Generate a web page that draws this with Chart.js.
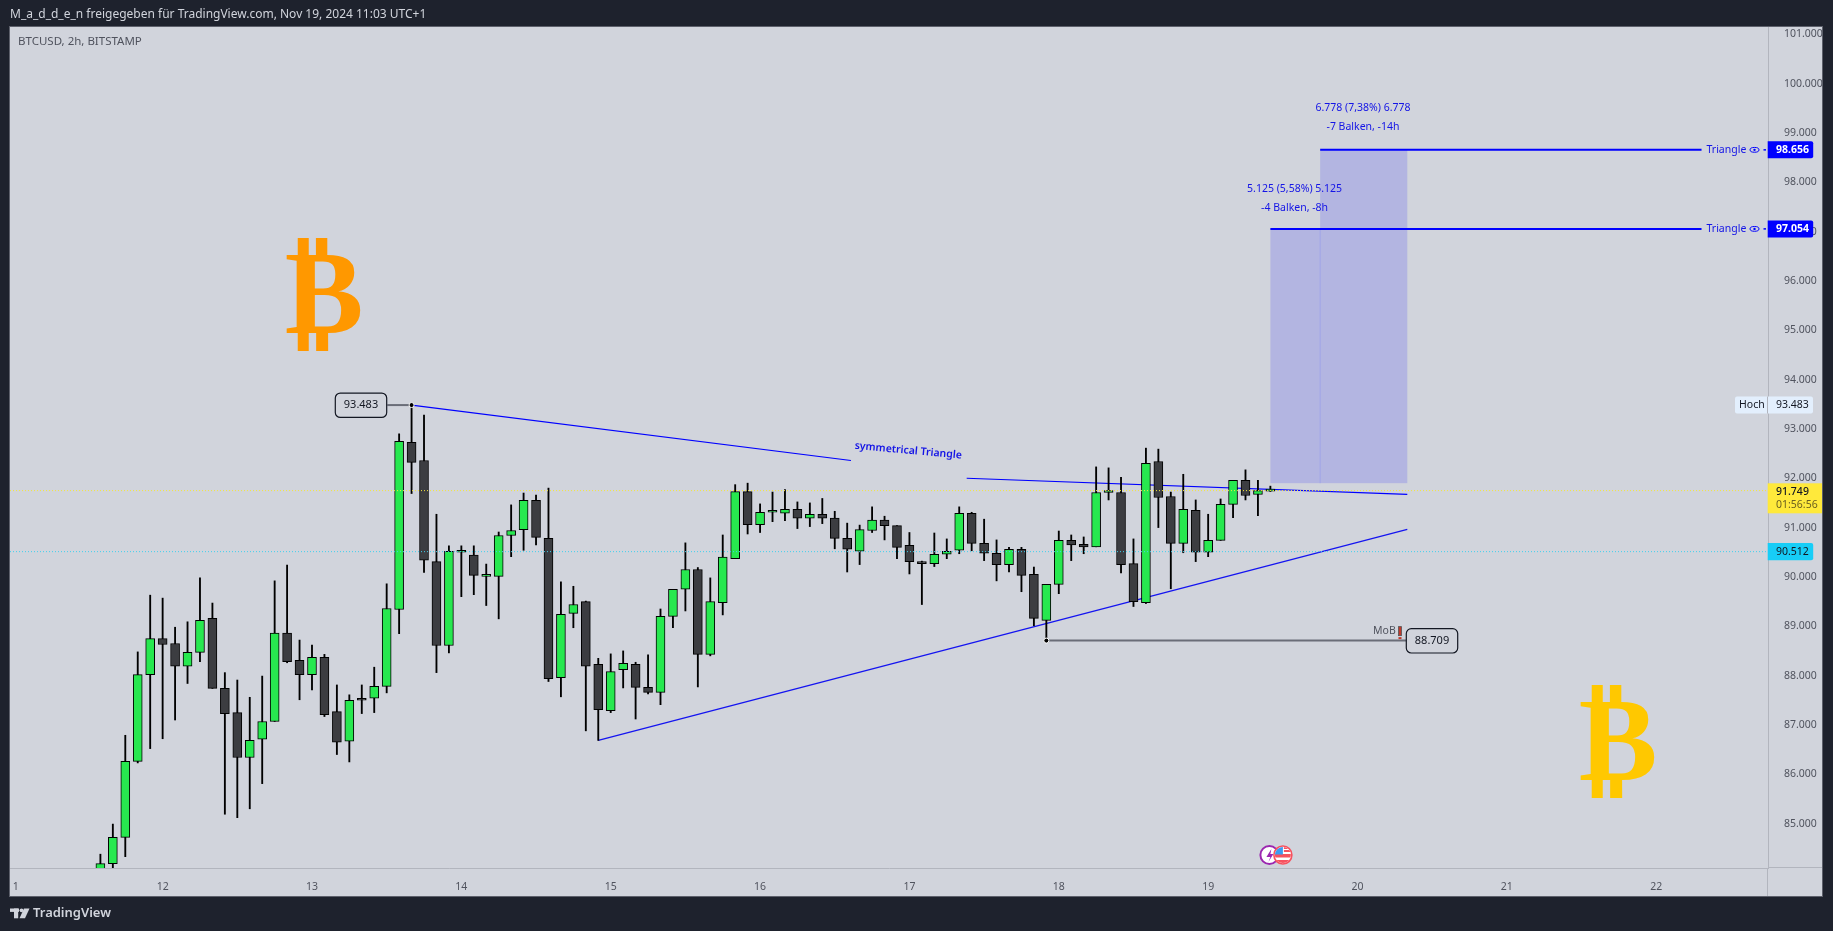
<!DOCTYPE html>
<html><head><meta charset="utf-8"><title>BTCUSD</title>
<style>html,body{margin:0;padding:0;background:#1e222d;overflow:hidden}canvas{display:block}</style>
<script src="https://cdn.jsdelivr.net/npm/chart.js@4"></script></head>
<body><canvas id="c" width="1833" height="931"></canvas>
<script>
// candle values, 2h BTCUSD, prices in thousands
const opens=[83.90,84.19,84.72,86.26,88.02,88.75,88.65,88.19,88.47,89.16,87.74,87.25,86.34,86.71,87.07,88.86,88.31,88.02,88.37,87.27,86.67,87.52,87.54,87.78,89.34,92.73,92.36,90.31,88.61,90.50,90.44,90.01,90.01,90.84,90.96,91.55,90.78,87.96,89.26,89.50,88.23,87.29,88.12,88.23,87.76,87.66,89.20,89.75,90.15,88.43,89.48,90.37,91.73,91.06,91.31,91.29,91.37,91.19,91.27,91.19,90.78,90.52,90.94,91.15,91.04,90.64,90.31,90.27,90.46,90.54,91.29,90.68,90.48,90.25,90.56,90.05,89.12,89.85,90.74,90.66,90.61,91.71,91.71,90.27,89.48,92.34,91.63,90.68,91.35,90.50,90.74,91.47,91.96,91.67,91.74];
const highs=[84.38,84.99,86.79,88.48,89.63,89.57,88.98,89.09,89.98,89.47,88.06,87.91,87.56,87.99,89.92,90.24,88.72,88.62,88.43,87.81,87.61,87.81,88.17,89.86,92.90,93.483,93.28,91.27,90.63,90.63,90.63,90.26,90.91,91.46,91.70,91.66,91.80,89.90,89.81,89.51,88.35,88.44,88.50,88.27,88.42,89.35,89.75,90.69,90.19,89.98,90.85,91.87,91.90,91.48,91.72,91.77,91.52,91.50,91.59,91.33,91.09,91.05,91.42,91.23,91.04,90.90,90.32,90.89,90.77,91.42,91.31,91.17,90.75,90.60,90.60,90.20,89.85,90.93,90.85,90.81,92.23,92.21,92.02,90.77,92.61,92.59,91.72,92.08,91.56,91.27,91.58,91.96,92.17,91.96,91.84];
const lows=[83.70,84.00,84.33,86.23,86.52,86.72,87.10,87.84,88.28,87.74,85.19,85.12,85.30,85.81,87.07,88.26,87.51,87.71,87.17,86.40,86.25,87.23,87.25,87.65,88.85,91.69,90.09,88.06,88.46,89.60,89.64,89.42,89.15,90.41,90.54,90.65,87.88,87.57,88.97,86.88,86.686,87.25,87.75,87.12,87.63,87.41,88.97,89.31,87.77,88.40,89.23,90.37,90.87,90.90,91.12,91.14,90.98,91.02,91.08,90.57,90.10,90.25,90.90,90.75,90.37,90.06,89.44,90.21,90.37,90.47,90.53,90.33,89.92,90.10,89.70,89.01,88.709,89.66,90.33,90.47,90.61,91.56,90.08,89.40,89.46,91.00,89.76,90.49,90.31,90.41,90.74,91.20,91.56,91.24,91.73];
const closes=[84.19,84.72,86.26,88.02,88.75,88.63,88.19,88.47,89.12,87.74,87.23,86.34,86.69,87.07,88.86,88.28,88.02,88.37,87.21,86.65,87.50,87.50,87.78,89.36,92.75,92.32,90.34,88.61,90.52,90.50,90.03,90.01,90.84,90.94,91.55,90.80,87.94,89.24,89.44,88.19,87.31,88.08,88.25,87.76,87.66,89.20,89.75,90.15,88.43,89.50,90.40,91.73,91.06,91.31,91.31,91.37,91.19,91.27,91.19,90.78,90.56,90.96,91.15,91.04,90.60,90.31,90.27,90.46,90.52,91.29,90.68,90.48,90.25,90.56,90.03,89.16,89.85,90.74,90.65,90.61,91.71,91.72,90.25,89.50,92.30,91.61,90.68,91.37,90.50,90.74,91.47,91.96,91.65,91.75,91.749];
// time axis
const dayLabels=['1','12','13','14','15','16','17','18','19','20','21','22'];
const dayPositions=[-6.8,5,17,29,41,53,65,77,89,101,113,125];
const xMin=-7.263,xMax=133.98;
// price axis
const priceMin=84.10,priceMax=101.146;
// drawings
const upperTrendX=[25,60.3,null,69.6,105];
const upperTrendY=[93.483,92.36,null,92.0,91.673];
const lowerTrendX=[40,105];
const lowerTrendY=[86.686,90.963];
const hiPrice=93.483,hiIndex=25;
const loPrice=88.709,loIndex=76;
const target1=97.054,target2=98.656;
const rangeBase=91.90;
const range1X=[94,98],range2X=[98,105];
const lastPrice=91.749,prevClose=90.512;
const hiddenEnd=128.64;
const GREEN='#27e84f',DARK='#3c3d41',BLUE='#0000ff',TXT='#50535e';
const FONT='"Noto Sans"';
const fmt=v=>v.toFixed(3);

const idx=opens.map((_,i)=>i);
const wickData=idx.map(i=>({x:i,y:[lows[i],highs[i]]}));
const bodyData=idx.map(i=>({x:i,y:[opens[i],closes[i]]}));
const bodyColors=idx.map(i=>closes[i]>=opens[i]?GREEN:DARK);
const zip=(xs,ys)=>xs.map((x,i)=>({x:x===null?NaN:x,y:ys[i]===null?NaN:ys[i]}));
const lineDs=(data,color,width,order,extra)=>Object.assign({type:'line',data,borderColor:color,borderWidth:width,pointRadius:0,tension:0,fill:false,spanGaps:false,order},extra||{});

function txt(c,s,x,y,font,color,align){c.font=font;c.fillStyle=color;c.textAlign=align||'left';c.textBaseline='middle';c.fillText(s,x,y);}
function round(c,x,y,w,h,r){c.beginPath();c.roundRect(x,y,w,h,r);}

const chrome={id:'chrome',
 beforeDraw(ch){const c=ch.ctx;c.save();
  c.fillStyle='#1e222d';c.fillRect(0,0,1833,931);
  c.fillStyle='#d1d4dc';c.fillRect(10,27,1812,869);
  c.strokeStyle='#5d606b';c.lineWidth=1;c.strokeRect(9.5,26.5,1813,870);
  c.strokeStyle='#b2b5be';c.beginPath();c.moveTo(1767.5,868);c.lineTo(1767.5,896);c.moveTo(1768,867.5);c.lineTo(1822,867.5);c.stroke();
  c.restore();},
 beforeDatasetsDraw(ch){const c=ch.ctx,X=ch.scales.x,Y=ch.scales.y;c.save();
  // bitcoin logos
  txt(c,'₿',324,302,'bold 118px "DejaVu Sans"','#ff9800','center');
  txt(c,'₿',1618,749,'bold 118px "DejaVu Sans"','#ffc800','center');
  // forecast ranges
  c.fillStyle='#b3b5e1';
  [[range1X,target1],[range2X,target2]].forEach(([r,t])=>{const x0=X.getPixelForValue(r[0]),x1=X.getPixelForValue(r[1]),y0=Y.getPixelForValue(t),y1=Y.getPixelForValue(rangeBase);c.fillRect(x0,y0,x1-x0,y1-y0);});
  const xm=X.getPixelForValue(range1X[1]);c.fillStyle='#9fa3e8';c.fillRect(xm-.5,Y.getPixelForValue(target1),1,Y.getPixelForValue(rangeBase)-Y.getPixelForValue(target1));
  c.restore();},
 afterDraw(ch){const c=ch.ctx,X=ch.scales.x,Y=ch.scales.y;c.save();
  // header
  txt(c,'M_a_d_d_e_n freigegeben für TradingView.com, Nov 19, 2024 11:03 UTC+1',10,14.5,'12px '+FONT,'#d1d4dc');
  txt(c,'BTCUSD, 2h, BITSTAMP',18,41.5,'11.5px '+FONT,TXT);
  // TradingView logo
  c.fillStyle='#d1d4dc';c.fillRect(10,908.5,9,3.4);c.fillRect(14,908.5,4.2,9.8);
  c.beginPath();c.arc(21.5,910.3,1.9,0,7);c.fill();
  c.beginPath();c.moveTo(24,908.5);c.lineTo(29.5,908.5);c.lineTo(25,918.3);c.lineTo(19.5,918.3);c.closePath();c.fill();
  txt(c,'TradingView',33,913.5,'600 13px '+FONT,'#d1d4dc');
  // range captions
  const blue='#1414e6',f='10.5px '+FONT;
  txt(c,'6.778 (7,38%) 6.778',1363,108,f,blue,'center');
  txt(c,'-7 Balken, -14h',1363,127,f,blue,'center');
  txt(c,'5.125 (5,58%) 5.125',1294.6,189,f,blue,'center');
  txt(c,'-4 Balken, -8h',1294.6,208,f,blue,'center');
  // triangle caption
  c.save();c.translate(908.3,450.7);c.rotate(Math.atan(0.0897));txt(c,'symmetrical Triangle',0,0,'600 10.5px '+FONT,blue,'center');c.restore();
  // target tags
  [[target1],[target2]].forEach(([p])=>{const y=Y.getPixelForValue(p);
   txt(c,'Triangle',1706.5,y,f,blue);
   c.strokeStyle=BLUE;c.lineWidth=1;c.beginPath();c.ellipse(1754.5,y,4.5,2.4,0,0,7);c.stroke();c.fillStyle=BLUE;c.beginPath();c.arc(1754.5,y,1.2,0,7);c.fill();
   c.fillRect(1763.5,y-.75,2.5,1.5);
   c.fillStyle=BLUE;round(c,1767.7,y-8.5,45.5,17,[0,2,2,0]);c.fill();
   txt(c,fmt(p),1776,y,'bold 10.5px '+FONT,'#ffffff');});
  // high label
  const hy=Y.getPixelForValue(hiPrice);
  c.fillStyle='#e3effd';round(c,1735,hy-8.5,78,17,2);c.fill();
  c.strokeStyle='#b2b5be';c.beginPath();c.moveTo(1767.5,hy-8.5);c.lineTo(1767.5,hy+8.5);c.stroke();
  txt(c,'Hoch',1739,hy,'10.5px '+FONT,'#131722');
  txt(c,fmt(hiPrice),1776,hy,'10.5px '+FONT,'#131722');
  // last price
  c.fillStyle='#ffe93b';c.fillRect(1767.7,483.3,54.3,30);
  txt(c,fmt(lastPrice),1776,492,'500 10.5px '+FONT,'#131722');
  txt(c,'01:56:56',1776,505,'10.5px '+FONT,'#6b5f20');
  const py=Y.getPixelForValue(prevClose);
  c.fillStyle='#17cdf7';round(c,1767.7,py-8.7,45.5,17.4,[0,2,2,0]);c.fill();
  txt(c,fmt(prevClose),1776,py,'10.5px '+FONT,'#131722');
  // boxed notes
  const note=(p,x,w)=>{const y=Y.getPixelForValue(p);c.fillStyle='#d1d4dc';c.strokeStyle='#131722';c.lineWidth=1.2;round(c,x,y-12,w,24.4,5);c.fill();c.stroke();txt(c,fmt(p),x+w/2,y,'11px '+FONT,'#131722','center');};
  note(hiPrice,335.3,51.4);note(loPrice,1406.3,51.4);
  // MoB note
  const ly=Y.getPixelForValue(loPrice);
  txt(c,'MoB',1373,ly-10,'10.5px '+FONT,'#50535e');
  c.fillStyle='#c0392b';c.strokeStyle='#555';c.lineWidth=.8;c.fillRect(1398.5,ly-14,3,9);c.strokeRect(1398.5,ly-14,3,9);c.fillRect(1398.5,ly-3.5,3,2);
  // economic calendar icons
  const ex=X.getPixelForValue(94),ey=855;
  c.fillStyle='#fff';c.strokeStyle='#9c27b0';c.lineWidth=2;c.beginPath();c.arc(ex-1,ey,9,0,7);c.fill();c.stroke();
  c.fillStyle='#9c27b0';c.beginPath();c.moveTo(ex+1,ey-6);c.lineTo(ex-4,ey+2);c.lineTo(ex,ey+2);c.lineTo(ex-2,ey+7);c.lineTo(ex+3,ey-1);c.lineTo(ex,ey-1);c.closePath();c.fill();
  const fx=ex+12.5;
  c.fillStyle='#fff';c.beginPath();c.arc(fx,ey,9,0,7);c.fill();
  c.save();c.beginPath();c.arc(fx,ey,8,0,7);c.clip();
  c.fillStyle='#f7525f';c.fillRect(fx-9,ey-1,18,3.5);c.fillRect(fx-9,ey+5,18,3);c.fillRect(fx+1,ey-9,9,3);c.fillRect(fx+1,ey-5,9,2);
  c.fillStyle='#3d9bf0';c.fillRect(fx-9,ey-9,9,8.5);c.restore();
  c.strokeStyle='#f7525f';c.lineWidth=1.6;c.beginPath();c.arc(fx,ey,9,0,7);c.stroke();
  c.restore();}
};

new Chart(document.getElementById('c'),{
 type:'bar',
 data:{datasets:[
  {type:'bar',data:wickData,backgroundColor:'#000',barThickness:1.2,grouped:false,order:3,borderWidth:0},
  {type:'bar',data:bodyData,backgroundColor:bodyColors,borderColor:'#000',borderWidth:1,borderSkipped:false,barThickness:9,minBarLength:2,grouped:false,order:2},
  lineDs(zip([xMin,xMax],[lastPrice,lastPrice]),'#f5e63c',1,0,{borderDash:[1,2]}),
  lineDs(zip([xMin,xMax],[prevClose,prevClose]),'#3fd0ee',1,1,{borderDash:[1,2]}),
  lineDs(zip(upperTrendX,upperTrendY),BLUE,1.2,4),
  lineDs(zip(lowerTrendX,lowerTrendY),'#1414f0',1.3,4),
  lineDs(zip([range1X[0],hiddenEnd],[target1,target1]),BLUE,2,1),
  lineDs(zip([range2X[0],hiddenEnd],[target2,target2]),BLUE,2,1),
  lineDs(zip([range2X[1],loIndex],[loPrice,loPrice]),'#6a6d78',2,1),
  lineDs(zip([hiIndex,hiIndex-1.95],[hiPrice,hiPrice]),'#6a6d78',2,1),
  lineDs(zip([hiIndex,loIndex],[hiPrice,loPrice]),'transparent',0,0,{showLine:false,pointRadius:2.5,pointBackgroundColor:'#000',pointBorderColor:'#fff',pointBorderWidth:1})
 ]},
 options:{
  responsive:false,animation:false,devicePixelRatio:1,
  layout:{padding:{left:10,top:27,right:11,bottom:35}},
  plugins:{legend:{display:false},tooltip:{enabled:false},title:{display:false}},
  scales:{
   x:{type:'linear',offset:false,min:xMin,max:xMax,
    afterFit(s){s.height=28;},
    afterBuildTicks(s){s.ticks=dayPositions.map(v=>({value:v}));},
    grid:{display:false},border:{display:true,color:'#b2b5be',width:1},
    ticks:{autoSkip:false,maxRotation:0,minRotation:0,padding:5,color:TXT,font:{family:'"Noto Sans"',size:10.5},
     callback(v){const i=dayPositions.indexOf(v);return i<0?'':dayLabels[i];}}},
   y:{type:'linear',position:'right',min:priceMin,max:priceMax,
    afterFit(s){s.width=54;},
    grid:{display:false},border:{display:true,color:'#b2b5be',width:1},
    ticks:{stepSize:1,includeBounds:false,padding:8,color:TXT,align:'center',crossAlign:'near',font:{family:'"Noto Sans"',size:10.5},
     callback:v=>fmt(v)}}
  }
 },
 plugins:[chrome]
});
</script></body></html>
